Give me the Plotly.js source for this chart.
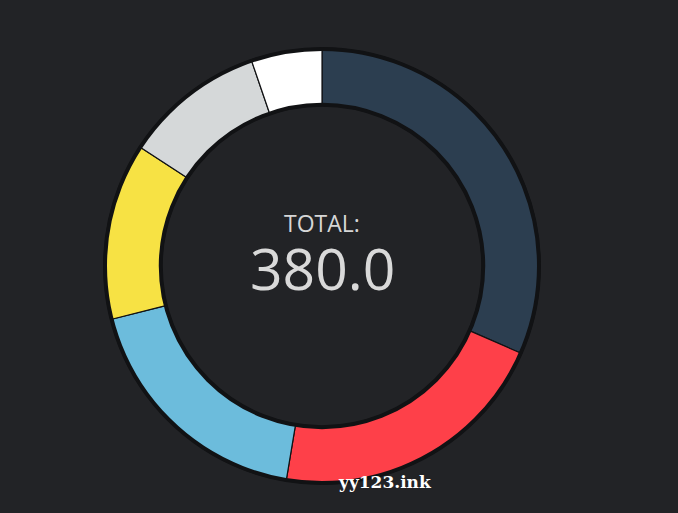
<!DOCTYPE html>
<html>
<head>
<meta charset="utf-8">
<script src="https://cdn.plot.ly/plotly-3.0.1.min.js"></script>
<style>
html,body{margin:0;padding:0;background:#222326;}
#chart{width:678px;height:513px;}
</style>
</head>
<body>
<div id="chart"></div>
<script>
const labels = ["A", "B", "C", "D", "E", "F"];
const values = [120, 80, 70, 50, 40, 20];
const colors = ["#2c3e50", "#fe4049", "#6cbcdc", "#f7e244", "#d5d8d9", "#ffffff"];
const totalLabel = "TOTAL:";
const watermark = "yy123.ink";
const total = values.reduce((a, b) => a + b, 0);

const W = 678, H = 513;
const margin = {l: 0, r: 34, t: 48, b: 29};
const pw = W - margin.l - margin.r, ph = H - margin.t - margin.b;
const R = Math.min(pw, ph) / 2;
const hole = 0.735;

function circle(r, w) {
  return {
    type: "circle", xref: "paper", yref: "paper",
    x0: 0.5 - r / pw, x1: 0.5 + r / pw,
    y0: 0.5 - r / ph, y1: 0.5 + r / ph,
    line: {color: "#111214", width: w}, layer: "above"
  };
}

const trace = {
  type: "pie",
  labels: labels,
  values: values,
  hole: hole,
  sort: false,
  direction: "clockwise",
  rotation: 0,
  textinfo: "none",
  hoverinfo: "none",
  marker: {colors: colors, line: {color: "#111214", width: 1.2}}
};

const layout = {
  width: W, height: H,
  margin: margin,
  paper_bgcolor: "#222326",
  plot_bgcolor: "#222326",
  showlegend: false,
  shapes: [circle(R - 1, 4), circle(R * hole + 1, 4)],
  annotations: [
    {text: totalLabel, x: 0.5, y: 0.5, xref: "paper", yref: "paper",
     yshift: 43, showarrow: false,
     font: {family: "Open Sans", size: 23, color: "#d6d6d6"}},
    {text: total.toFixed(1), x: 0.5, y: 0.5, xref: "paper", yref: "paper",
     yshift: -2, showarrow: false,
     font: {family: "Open Sans", size: 57, color: "#d9d9d9"}},
    {text: "<b>" + watermark + "</b>", x: (385 - margin.l) / pw, y: (H - margin.b - 494) / ph,
     xref: "paper", yref: "paper", showarrow: false,
     font: {family: "DejaVu Serif", size: 17, color: "#ffffff"}}
  ]
};

Plotly.newPlot("chart", [trace], layout, {displayModeBar: false, staticPlot: true});
</script>
</body>
</html>
